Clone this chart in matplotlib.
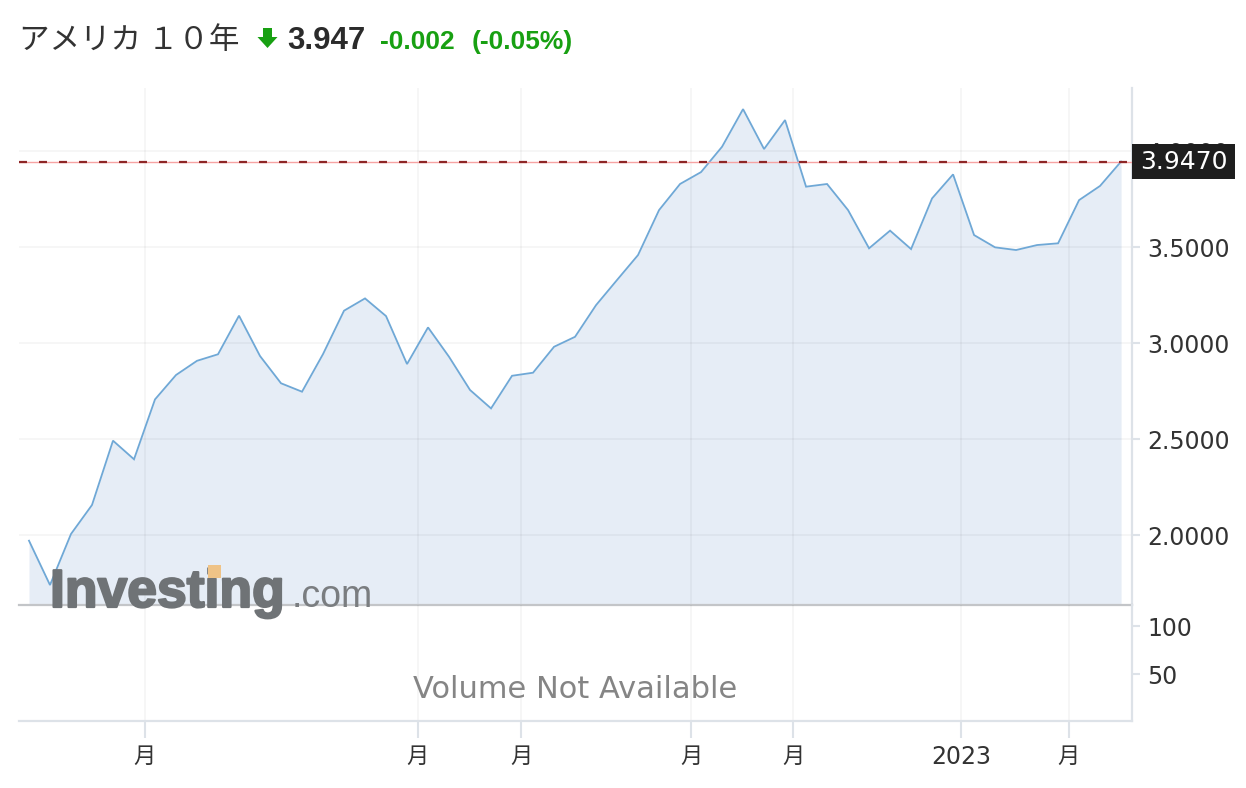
import numpy as np
import matplotlib
matplotlib.use("Agg")
import matplotlib.pyplot as plt
import matplotlib.patheffects as pe
from matplotlib.transforms import blended_transform_factory
from matplotlib.patches import Rectangle, Polygon

# ---------------- data ----------------
yields = [1.972, 1.741, 2.007, 2.158, 2.493, 2.396, 2.708, 2.835, 2.909, 2.943,
          3.144, 2.934, 2.792, 2.748, 2.944, 3.170, 3.234, 3.142, 2.892,
          3.083, 2.930, 2.757, 2.661, 2.831, 2.847, 2.982, 3.034, 3.199, 3.330,
          3.460, 3.694, 3.830, 3.892, 4.024, 4.220, 4.012, 4.163,
          3.816, 3.830, 3.694, 3.495, 3.587, 3.491, 3.755, 3.880, 3.564, 3.500,
          3.486, 3.512, 3.521, 3.746, 3.820, 3.947]
price_ticks = [2.0, 2.5, 3.0, 3.5, 4.0]
volume_ticks = [50, 100]
month_tick_pos = [5.52, 18.5, 23.43, 31.52, 36.38, 44.4, 49.5]
month_tick_labels = ["月", "月", "月", "月", "月", "2023", "月"]
title_name = "アメリカ １０年"
last_price = "3.947"
change = "-0.002"
change_pct = "(-0.05%)"

# ---------------- figure ----------------
W, H = 1246, 788
fig = plt.figure(figsize=(W / 100, H / 100), dpi=100)
fig.patch.set_facecolor("white")


def fx(px):
    return px / W


def fy(py):
    return 1 - py / H


ax = fig.add_axes([fx(19), fy(605), fx(1132) - fx(19), fy(88) - fy(605)])
axv = fig.add_axes([fx(19), fy(721), fx(1132) - fx(19), fy(605) - fy(721)], sharex=ax)

x = np.arange(len(yields))
ylo, yhi = 1.637, 4.330
ax.set_xlim(-0.476, 52.52)
ax.set_ylim(ylo, yhi)

ax.fill_between(x, yields, ylo, color="#e6edf6", lw=0, zorder=1)
ax.plot(x, yields, color="#6fa8d6", lw=1.3, zorder=3, solid_joinstyle="miter")

grid_kw = dict(color="black", alpha=0.035, lw=1.5, zorder=2)
for yv in price_ticks:
    ax.axhline(yv, **grid_kw)
for xv in month_tick_pos:
    ax.axvline(xv, **grid_kw)
    axv.axvline(xv, **grid_kw)

last = yields[-1]
ax.axhline(last, color="#f7a3a3", lw=1.0, zorder=4)
ax.axhline(last, color="#8e2626", lw=1.6, dashes=(3.6, 5.4), zorder=5)

# axis styling
axis_col = "#dde2e8"
for a in (ax, axv):
    a.set_facecolor("none")
    a.spines["top"].set_visible(False)
    a.spines["left"].set_visible(False)
    a.spines["right"].set_color(axis_col)
    a.spines["right"].set_linewidth(1.6)
    a.yaxis.tick_right()
ax.spines["bottom"].set_color("#c3c5c8")
ax.spines["bottom"].set_linewidth(1.6)
ax.spines["bottom"].set_zorder(6)
axv.spines["bottom"].set_color(axis_col)
axv.spines["bottom"].set_linewidth(1.6)

ax.set_yticks(price_ticks)
ax.set_yticklabels([f"{v:.4f}" for v in price_ticks])
ax.tick_params(axis="y", length=6, width=1.5, color=axis_col, pad=5,
               labelsize=17, labelcolor="#333333")
ax.tick_params(axis="x", bottom=False, labelbottom=False)

axv.set_ylim(1, 122)
axv.set_yticks(volume_ticks)
axv.set_yticklabels([str(v) for v in volume_ticks])
axv.tick_params(axis="y", length=6, width=1.5, color=axis_col, pad=5,
                labelsize=17, labelcolor="#333333")
axv.set_xticks(month_tick_pos)
axv.set_xticklabels(month_tick_labels)
axv.tick_params(axis="x", length=12, width=1.5, color=axis_col, pad=5,
                labelsize=16.5, labelcolor="#333333")
for lab in axv.get_xticklabels():
    lab.set_family(["DejaVu Sans"] if lab.get_text().isdigit() else ["Noto Sans CJK JP"])
    lab.set_fontsize(17 if lab.get_text().isdigit() else 16)

axv.text(0.5, 0.27, "Volume Not Available", transform=axv.transAxes,
         ha="center", va="center", fontsize=22, color="#858585")

# current price label box
fig.canvas.draw()
trans = blended_transform_factory(ax.transAxes, ax.transData)
ax_h_px = ax.get_window_extent().height
box_h = 35 / ax_h_px * (yhi - ylo)
box_w = 103 / ax.get_window_extent().width
ax.add_patch(Rectangle((1.0, last - box_h / 2), box_w, box_h, transform=trans,
                       facecolor="#1e1e1e", edgecolor="none", clip_on=False, zorder=20))
ax.text(1.0 + box_w / 2, last, f"{last:.4f}", transform=trans, ha="center", va="center",
        color="white", fontsize=18, zorder=21, clip_on=False)

# watermark
wm_col = "#6f7376"
fig.text(fx(50), fy(607), "Investing", ha="left", va="baseline", fontsize=38.5,
         fontweight="bold", family="Liberation Sans", color=wm_col, zorder=30,
         path_effects=[pe.withStroke(linewidth=1.6, foreground=wm_col)])
fig.add_artist(Rectangle((fx(208), fy(578)), fx(13), fy(565) - fy(578),
                         transform=fig.transFigure, facecolor="#efc387",
                         edgecolor="none", zorder=31))
fig.text(fx(292), fy(607), ".com", ha="left", va="baseline", fontsize=27,
         family="Liberation Sans", color="#7a7d80", zorder=30)

# header
fig.text(fx(19), fy(49), title_name, ha="left", va="baseline", fontsize=22,
         family=["Noto Sans CJK JP", "DejaVu Sans"], color="#333333")
green = "#18a012"
arrow = [(263, 28), (272, 28), (272, 37), (277.5, 37), (267.5, 48), (257.5, 37), (263, 37)]
fig.add_artist(Polygon([(fx(px), fy(py)) for px, py in arrow], closed=True,
                       transform=fig.transFigure, facecolor=green, edgecolor="none"))
fig.text(fx(287), fy(49), last_price, ha="left", va="baseline", fontsize=22.5,
         fontweight="bold", family="Liberation Sans", color="#2b2b2b")
fig.text(fx(380), fy(49), change, ha="left", va="baseline", fontsize=19,
         fontweight="bold", family="Liberation Sans", color=green)
fig.text(fx(472), fy(49), change_pct, ha="left", va="baseline", fontsize=19,
         fontweight="bold", family="Liberation Sans", color=green)

fig.savefig("out.png", dpi=100, facecolor="white")
